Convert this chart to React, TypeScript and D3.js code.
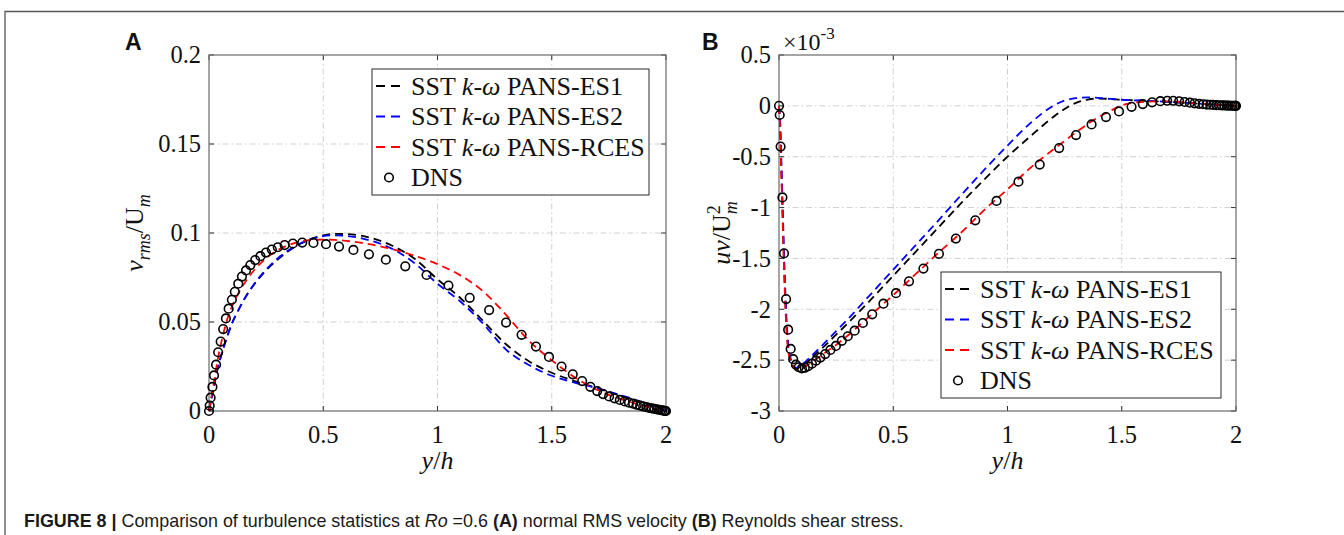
import React from "react";
import * as d3 from "d3";

const W = 1344;
const H = 535;

// ---------- shared ticks ----------
const xTicks = [0, 0.5, 1, 1.5, 2];
const xTickLabels = ["0", "0.5", "1", "1.5", "2"];
const yTicksA = [0, 0.05, 0.1, 0.15, 0.2];
const yTickLabelsA = ["0", "0.05", "0.1", "0.15", "0.2"];
const yTicksB = [-3, -2.5, -2, -1.5, -1, -0.5, 0, 0.5];
const yTickLabelsB = ["-3", "-2.5", "-2", "-1.5", "-1", "-0.5", "0", "0.5"];

const seriesSuffix = ["PANS-ES1", "PANS-ES2", "PANS-RCES"];
const seriesColors = ["#000000", "#0000ff", "#ff0000"];

// ---------- DNS (symmetric wall-normal grid) ----------
const dnsX = [
  0, 0.003, 0.007, 0.015, 0.022, 0.031, 0.04, 0.051, 0.062, 0.074, 0.086, 0.1, 0.113, 0.128, 0.144, 0.162,
  0.181, 0.202, 0.225, 0.249, 0.275, 0.301, 0.331, 0.367, 0.408, 0.457, 0.512, 0.569, 0.632, 0.7, 0.774,
  0.859, 0.952, 1.048, 1.141, 1.226, 1.3, 1.368, 1.431, 1.488, 1.543, 1.592, 1.633, 1.669, 1.699, 1.725,
  1.751, 1.775, 1.798, 1.819, 1.838, 1.856, 1.872, 1.887, 1.9, 1.914, 1.926, 1.938, 1.949, 1.96, 1.969,
  1.978, 1.985, 1.993, 1.997, 2.0,
];
const dnsA = [
  0, 0.003, 0.0075, 0.0135, 0.02, 0.026, 0.033, 0.039, 0.046, 0.052, 0.0575, 0.0625, 0.067, 0.0715, 0.0755,
  0.079, 0.082, 0.0848, 0.087, 0.089, 0.0907, 0.092, 0.0932, 0.0941, 0.0946, 0.0944, 0.0937, 0.0924, 0.0905,
  0.088, 0.085, 0.0813, 0.0764, 0.0705, 0.0636, 0.0567, 0.0497, 0.0428, 0.0362, 0.0304, 0.025, 0.0206,
  0.0168, 0.0136, 0.0112, 0.0095, 0.0082, 0.0071, 0.0062, 0.0054, 0.0047, 0.0041, 0.0035, 0.003, 0.0026,
  0.0022, 0.0018, 0.0015, 0.0012, 0.0009, 0.0007, 0.0005, 0.0003, 0.0001, 0, 0,
];
const dnsB = [
  0, -0.09, -0.4, -0.9, -1.45, -1.9, -2.2, -2.39, -2.49, -2.545, -2.57, -2.58, -2.575, -2.56, -2.535, -2.505,
  -2.475, -2.44, -2.4, -2.36, -2.31, -2.265, -2.21, -2.135, -2.05, -1.945, -1.842, -1.725, -1.6, -1.455,
  -1.305, -1.125, -0.935, -0.745, -0.577, -0.415, -0.287, -0.183, -0.11, -0.055, -0.01, 0.018, 0.035, 0.046,
  0.05, 0.05, 0.045, 0.038, 0.031, 0.025, 0.02, 0.016, 0.013, 0.011, 0.009, 0.007, 0.006, 0.005, 0.004,
  0.003, 0.002, 0.001, 0.001, 0, 0, 0,
];

// ---------- model curves, panel A (v_rms/U_m) ----------
const modelXA = [
  0, 0.01, 0.02, 0.04, 0.06, 0.08, 0.1, 0.13, 0.16, 0.2, 0.25, 0.3, 0.35, 0.4, 0.45, 0.5, 0.55, 0.6, 0.7, 0.8,
  0.9, 1.0, 1.1, 1.2, 1.3, 1.4, 1.5, 1.6, 1.7, 1.8, 1.9, 1.95, 2.0,
];
const es1A = [
  0, 0.0065, 0.013, 0.025, 0.034, 0.042, 0.049, 0.057, 0.064, 0.0715, 0.079, 0.085, 0.09, 0.094, 0.0968, 0.0986,
  0.0995, 0.0994, 0.0975, 0.093, 0.0855, 0.074, 0.0635, 0.0505, 0.0375, 0.028, 0.0215, 0.0168, 0.0128, 0.0085,
  0.0042, 0.002, 0,
];
const es2A = [
  0, 0.0065, 0.013, 0.025, 0.034, 0.042, 0.049, 0.057, 0.064, 0.0718, 0.0795, 0.0857, 0.0905, 0.0942, 0.0967,
  0.0982, 0.0987, 0.0984, 0.096, 0.0912, 0.083, 0.0715, 0.0615, 0.049, 0.0345, 0.0258, 0.0198, 0.016, 0.0128,
  0.009, 0.0048, 0.0024, 0,
];
const rcesA = [
  0, 0.0075, 0.015, 0.03, 0.042, 0.0515, 0.0585, 0.0665, 0.0728, 0.0795, 0.0858, 0.0903, 0.0933, 0.0952, 0.0961,
  0.0963, 0.0961, 0.0956, 0.0938, 0.091, 0.0872, 0.0825, 0.0762, 0.0672, 0.054, 0.0395, 0.0285, 0.019, 0.0118,
  0.0068, 0.003, 0.0014, 0,
];

// ---------- model curves, panel B (uv/U_m^2, x10^-3) ----------
const modelXB = [
  0, 0.005, 0.01, 0.015, 0.02, 0.025, 0.03, 0.035, 0.04, 0.05, 0.06, 0.07, 0.08, 0.1, 0.15, 0.2, 0.25, 0.3, 0.4,
  0.5, 0.6, 0.7, 0.8, 0.9, 1.0, 1.1, 1.2, 1.25, 1.3, 1.35, 1.4, 1.45, 1.5, 1.55, 1.6, 1.7, 1.8, 1.9, 2.0,
];
const es1B = [
  0, -0.2, -0.6, -1.0, -1.4, -1.75, -2.05, -2.25, -2.38, -2.5, -2.56, -2.58, -2.58, -2.555, -2.46, -2.36, -2.25,
  -2.14, -1.91, -1.67, -1.43, -1.19, -0.95, -0.72, -0.5, -0.3, -0.11, -0.03, 0.03, 0.062, 0.072, 0.068, 0.06,
  0.055, 0.05, 0.04, 0.027, 0.013, 0,
];
const es2B = [
  0, -0.15, -0.5, -0.9, -1.3, -1.65, -1.95, -2.18, -2.33, -2.47, -2.55, -2.575, -2.575, -2.545, -2.44, -2.33,
  -2.215, -2.1, -1.855, -1.61, -1.365, -1.12, -0.87, -0.625, -0.39, -0.17, 0.0, 0.052, 0.076, 0.083, 0.078,
  0.068, 0.06, 0.055, 0.05, 0.04, 0.027, 0.013, 0,
];
const rcesB = [
  0, -0.25, -0.65, -1.05, -1.45, -1.8, -2.08, -2.27, -2.4, -2.5, -2.56, -2.585, -2.59, -2.58, -2.51, -2.43, -2.35,
  -2.26, -2.06, -1.86, -1.65, -1.44, -1.24, -1.02, -0.82, -0.61, -0.43, -0.345, -0.26, -0.18, -0.11, -0.05, 0.005,
  0.03, 0.04, 0.045, 0.03, 0.012, 0,
];

const SERIF = "'Liberation Serif', 'Times New Roman', 'DejaVu Serif', serif";
const SANS = "'Liberation Sans', Arial, Helvetica, sans-serif";

type PanelProps = {
  left: number;
  right: number;
  top: number;
  bottom: number;
  yDomain: [number, number];
  yTicks: number[];
  yTickLabels: string[];
  modelX: number[];
  models: number[][];
  dnsY: number[];
  legend: { x: number; y: number; w: number; h: number };
};

function Panel(p: PanelProps) {
  const x = d3.scaleLinear().domain([0, 2]).range([p.left, p.right]);
  const y = d3.scaleLinear().domain(p.yDomain).range([p.bottom, p.top]);
  const line = d3
    .line<number>()
    .x((_, i) => x(p.modelX[i]))
    .y((d) => y(d))
    .curve(d3.curveMonotoneX);
  const tickLen = 5;
  const gridColor = "#d0d0d0";
  const gridDash = "6,3,1.5,3";
  const lg = p.legend;
  const rowH = 30.5;
  return (
    <g>
      {/* grid */}
      {xTicks.slice(1, -1).map((t) => (
        <line key={"gx" + t} x1={x(t)} x2={x(t)} y1={p.top} y2={p.bottom} stroke={gridColor} strokeWidth={1} strokeDasharray={gridDash} />
      ))}
      {p.yTicks.slice(1, -1).map((t) => (
        <line key={"gy" + t} x1={p.left} x2={p.right} y1={y(t)} y2={y(t)} stroke={gridColor} strokeWidth={1} strokeDasharray={gridDash} />
      ))}
      {/* ticks */}
      {xTicks.map((t) => (
        <g key={"tx" + t}>
          <line x1={x(t)} x2={x(t)} y1={p.bottom} y2={p.bottom - tickLen} stroke="#333" strokeWidth={1} />
          <line x1={x(t)} x2={x(t)} y1={p.top} y2={p.top + tickLen} stroke="#333" strokeWidth={1} />
        </g>
      ))}
      {p.yTicks.map((t) => (
        <g key={"ty" + t}>
          <line x1={p.left} x2={p.left + tickLen} y1={y(t)} y2={y(t)} stroke="#333" strokeWidth={1} />
          <line x1={p.right} x2={p.right - tickLen} y1={y(t)} y2={y(t)} stroke="#333" strokeWidth={1} />
        </g>
      ))}
      {/* box */}
      <rect x={p.left} y={p.top} width={p.right - p.left} height={p.bottom - p.top} fill="none" stroke="#6a6a6a" strokeWidth={1.2} />
      {/* tick labels */}
      {xTicks.map((t, i) => (
        <text key={"lx" + t} x={x(t)} y={p.bottom + 32} textAnchor="middle" fontFamily={SERIF} fontSize={24.5} fill="#111">
          {xTickLabels[i]}
        </text>
      ))}
      {p.yTicks.map((t, i) => (
        <text key={"ly" + t} x={p.left - 8} y={y(t)} dy="0.34em" textAnchor="end" fontFamily={SERIF} fontSize={24.5} fill="#111">
          {p.yTickLabels[i]}
        </text>
      ))}
      {/* model curves */}
      {p.models.map((m, k) => (
        <path key={"m" + k} d={line(m) || ""} fill="none" stroke={seriesColors[k]} strokeWidth={1.8} strokeDasharray="8,5" />
      ))}
      {/* DNS */}
      {p.dnsY.map((v, i) => (
        <circle key={"d" + i} cx={x(dnsX[i])} cy={y(v)} r={4.3} fill="none" stroke="#000" strokeWidth={1.6} />
      ))}
      {/* legend */}
      <rect x={lg.x} y={lg.y} width={lg.w} height={lg.h} fill="#fff" stroke="#2a2a2a" strokeWidth={1} />
      {seriesSuffix.map((s, k) => {
        const cy = lg.y + 17 + k * rowH;
        return (
          <g key={"lg" + k}>
            <line x1={lg.x + 4} x2={lg.x + 31} y1={cy} y2={cy} stroke={seriesColors[k]} strokeWidth={1.8} strokeDasharray="9,6" />
            <text x={lg.x + 39} y={cy} dy="0.34em" fontFamily={SERIF} fontSize={26} fill="#111">
              SST <tspan fontStyle="italic">k</tspan>-<tspan fontStyle="italic">ω</tspan> {s}
            </text>
          </g>
        );
      })}
      <circle cx={lg.x + 17} cy={lg.y + 17 + 3 * rowH} r={4.3} fill="none" stroke="#000" strokeWidth={1.6} />
      <text x={lg.x + 39} y={lg.y + 17 + 3 * rowH} dy="0.34em" fontFamily={SERIF} fontSize={26} fill="#111">
        DNS
      </text>
      {/* x label */}
      <text x={(p.left + p.right) / 2} y={p.bottom + 58} textAnchor="middle" fontFamily={SERIF} fontSize={26} fill="#111">
        <tspan fontStyle="italic">y</tspan>/<tspan fontStyle="italic">h</tspan>
      </text>
    </g>
  );
}

export default function App() {
  const top = 55;
  const bottom = 411;
  return (
    <svg width={W} height={H} style={{ position: "absolute", left: 0, top: 0, background: "#fff" }} xmlns="http://www.w3.org/2000/svg">
      <rect x={0} y={0} width={W} height={H} fill="#fff" />
      {/* figure frame */}
      <path d={`M5,${H} V11.5 H${W}`} fill="none" stroke="#555" strokeWidth={1.3} />

      {/* Panel A */}
      <text x={125} y={50} fontFamily={SANS} fontWeight="bold" fontSize={23} fill="#111">A</text>
      <Panel
        left={209}
        right={666}
        top={top}
        bottom={bottom}
        yDomain={[0, 0.2]}
        yTicks={yTicksA}
        yTickLabels={yTickLabelsA}
        modelX={modelXA}
        models={[es1A, es2A, rcesA]}
        dnsY={dnsA}
        legend={{ x: 372, y: 69, w: 277, h: 126 }}
      />
      <text transform="translate(143,233) rotate(-90)" textAnchor="middle" fontFamily={SERIF} fontSize={26} fill="#111">
        <tspan fontStyle="italic">v</tspan>
        <tspan fontStyle="italic" fontSize={18} dy={7}>rms</tspan>
        <tspan dy={-7}>/U</tspan>
        <tspan fontStyle="italic" fontSize={18} dy={7}>m</tspan>
      </text>

      {/* Panel B */}
      <text x={702} y={50} fontFamily={SANS} fontWeight="bold" fontSize={23} fill="#111">B</text>
      <Panel
        left={779}
        right={1236}
        top={top}
        bottom={bottom}
        yDomain={[-3, 0.5]}
        yTicks={yTicksB}
        yTickLabels={yTickLabelsB}
        modelX={modelXB}
        models={[es1B, es2B, rcesB]}
        dnsY={dnsB}
        legend={{ x: 941, y: 272, w: 280, h: 126 }}
      />
      <text x={783} y={50} fontFamily={SERIF} fontSize={24} fill="#111">
        ×10<tspan fontSize={17} dy={-11}>-3</tspan>
      </text>
      <text transform="translate(730,233) rotate(-90)" textAnchor="middle" fontFamily={SERIF} fontSize={26} fill="#111">
        <tspan fontStyle="italic">uv</tspan>
        <tspan>/U</tspan>
        <tspan fontStyle="italic" fontSize={18} dy={7}>m</tspan>
        <tspan fontSize={18} dx={-13} dy={-17}>2</tspan>
      </text>

      {/* caption */}
      <text x={24} y={527} fontFamily={SANS} fontSize={17.9} fill="#1a1a1a">
        <tspan fontWeight="bold">FIGURE 8 | </tspan>
        Comparison of turbulence statistics at <tspan fontStyle="italic">Ro</tspan> =0.6{" "}
        <tspan fontWeight="bold">(A)</tspan> normal RMS velocity <tspan fontWeight="bold">(B)</tspan> Reynolds shear stress.
      </text>
    </svg>
  );
}
